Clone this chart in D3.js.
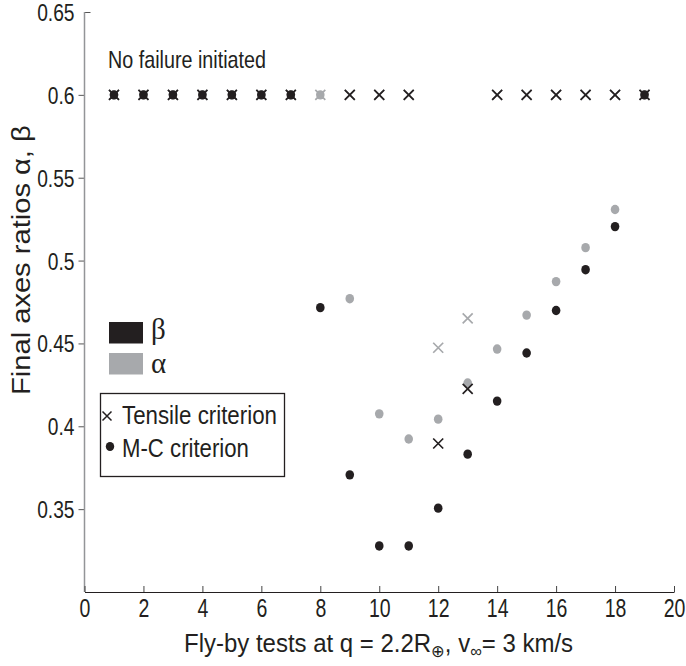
<!DOCTYPE html>
<html>
<head>
<meta charset="utf-8">
<script src="https://cdn.jsdelivr.net/npm/d3@7"></script>
<style>
  body { margin: 0; background: #fff; }
  svg { display: block; font-family: "Liberation Sans", Arial, sans-serif; }
</style>
</head>
<body>
<div id="chart"></div>
<script>
'use strict';

// fly-by test number
var tests = [1, 2, 3, 4, 5, 6, 7, 8, 9, 10, 11, 12, 13, 14, 15, 16, 17, 18, 19];

// final axes ratios (null = no marker drawn)
var betaMC = [0.6, 0.6, 0.6, 0.6, 0.6, 0.6, 0.6, 0.4716, 0.3707, 0.3278, 0.3278,
  0.3506, 0.3832, 0.4152, 0.4442, 0.4699, 0.4945, 0.5205, 0.6];
var alphaMC = [0.6, 0.6, 0.6, 0.6, 0.6, 0.6, 0.6, 0.6, 0.4770, 0.4075, 0.3923,
  0.4043, 0.4261, 0.4466, 0.4671, 0.4873, 0.5078, 0.5308, 0.6];
var betaTensile = [0.6, 0.6, 0.6, 0.6, 0.6, 0.6, 0.6, null, 0.6, 0.6, 0.6,
  0.3896, 0.4226, 0.6, 0.6, 0.6, 0.6, 0.6, 0.6];
var alphaTensile = [0.6, 0.6, 0.6, 0.6, 0.6, 0.6, 0.6, 0.6, 0.6, 0.6, 0.6,
  0.4474, 0.4651, 0.6, 0.6, 0.6, 0.6, 0.6, 0.6];

var xTicks = [0, 2, 4, 6, 8, 10, 12, 14, 16, 18, 20];
var yTicks = [0.35, 0.4, 0.45, 0.5, 0.55, 0.6, 0.65];

var black = '#231f20';
var gray = '#a7a9ac';

var w = 686, h = 666;

var x = d3.scaleLinear().domain([0, 20]).range([84.5, 674]);
var y = d3.scaleLinear().domain([0.3, 0.65]).range([592, 12]);

var svg = d3.select('#chart').append('svg')
    .attr('width', w)
    .attr('height', h);

// squeeze a text horizontally round its anchor point (the original uses a condensed face)
function squeeze(sel, x0, y0, k) {
  sel.attr('x', 0).attr('y', 0)
     .attr('transform', 'translate(' + x0 + ',' + y0 + ') scale(' + k + ',1)');
}
// squeeze a text so that it is exactly `width` wide
function fit(sel, x0, y0, width) {
  sel.attr('x', 0).attr('y', 0);
  var w0 = sel.node().getBBox().width;
  squeeze(sel, x0, y0, width / w0);
}

// y axis (gray, ticks outside)
var yAxis = svg.append('g')
    .attr('transform', 'translate(' + x(0) + ',0)')
    .call(d3.axisLeft(y).tickValues(yTicks).tickSize(6)
      .tickFormat(function (d) { return String(+d.toFixed(2)); }));
yAxis.select('.domain').remove();
yAxis.append('line')
    .attr('y1', y(0.65)).attr('y2', y(0.3))
    .attr('stroke', '#939598').attr('stroke-width', 1.5);
yAxis.selectAll('.tick line').attr('stroke', '#555').attr('stroke-width', 1);
yAxis.selectAll('.tick').filter(function (d) { return d === 0.65; })
    .select('line').attr('x2', 6);
yAxis.selectAll('.tick text')
    .attr('fill', black)
    .attr('dy', null)
    .style('font-size', '24px')
    .each(function () { squeeze(d3.select(this), -10, 8.5, 0.8); });

// x axis (dark, ticks inside)
var xAxis = svg.append('g')
    .attr('transform', 'translate(0,' + y(0.3) + ')')
    .call(d3.axisBottom(x).tickValues(xTicks).tickSizeInner(-6).tickSizeOuter(0));
xAxis.select('.domain').attr('stroke', black).attr('stroke-width', 1.2);
xAxis.selectAll('.tick line').attr('stroke', '#444');
xAxis.selectAll('.tick text')
    .attr('fill', black)
    .attr('dy', null)
    .style('font-size', '25px')
    .each(function () { squeeze(d3.select(this), 0, 25, 0.78); });

// markers
function drawDots(vals, color) {
  svg.append('g').selectAll('ellipse')
      .data(tests.map(function (t, i) { return [t, vals[i]]; })
        .filter(function (d) { return d[1] !== null; }))
    .enter().append('ellipse')
      .attr('cx', function (d) { return x(d[0]); })
      .attr('cy', function (d) { return y(d[1]); })
      .attr('rx', 4.3)
      .attr('ry', 4.7)
      .attr('fill', color);
}

function drawCrosses(vals, color) {
  var s = 5;
  svg.append('g').selectAll('path')
      .data(tests.map(function (t, i) { return [t, vals[i]]; })
        .filter(function (d) { return d[1] !== null; }))
    .enter().append('path')
      .attr('d', function (d) {
        var cx = x(d[0]), cy = y(d[1]);
        return 'M' + (cx - s) + ',' + (cy - s) + 'L' + (cx + s) + ',' + (cy + s)
          + 'M' + (cx - s) + ',' + (cy + s) + 'L' + (cx + s) + ',' + (cy - s);
      })
      .attr('stroke', color)
      .attr('stroke-width', 1.7)
      .attr('fill', 'none');
}

drawDots(alphaMC, gray);
drawCrosses(alphaTensile, gray);
drawDots(betaMC, black);
drawCrosses(betaTensile, black);

// annotation
var note = svg.append('text')
    .attr('fill', black)
    .style('font-size', '24px')
    .text('No failure initiated');
fit(note, 108, 68, 158);

// colour legend
var legend = [['\u03b2', black], ['\u03b1', gray]];
legend.forEach(function (d, i) {
  svg.append('rect')
      .attr('x', 109).attr('y', 322 + i * 31)
      .attr('width', 34).attr('height', 21.5)
      .attr('fill', d[1]);
  svg.append('text')
      .attr('x', 151).attr('y', 339 + i * 34)
      .attr('fill', black)
      .style('font-family', '"Liberation Serif", "Times New Roman", serif')
      .style('font-size', '29px')
      .text(d[0]);
});

// marker legend
svg.append('rect')
    .attr('x', 100.5).attr('y', 393.5)
    .attr('width', 184).attr('height', 83)
    .attr('fill', 'none')
    .attr('stroke', black)
    .attr('stroke-width', 1.3);
svg.append('path')
    .attr('d', 'M102.5,411.5L111.5,420.5M102.5,420.5L111.5,411.5')
    .attr('stroke', black).attr('stroke-width', 1.5);
var t1 = svg.append('text')
    .attr('fill', black)
    .style('font-size', '25px')
    .text('Tensile criterion');
fit(t1, 122, 424, 155);
svg.append('ellipse')
    .attr('cx', 110).attr('cy', 446.5)
    .attr('rx', 4.2).attr('ry', 4.6)
    .attr('fill', black);
var t2 = svg.append('text')
    .attr('fill', black)
    .style('font-size', '25px')
    .text('M-C criterion');
fit(t2, 122, 457, 127);

// axis titles
var xt = svg.append('text')
    .attr('fill', black)
    .style('font-size', '25px');
xt.append('tspan').text('Fly-by tests at q = 2.2R');
xt.append('tspan').attr('dy', 5).style('font-size', '17px').text('\u2295');
xt.append('tspan').attr('dy', -5).text(', v');
xt.append('tspan').attr('dy', 5).style('font-size', '17px').text('\u221e');
xt.append('tspan').attr('dy', -5).text('= 3 km/s');
fit(xt, 184, 652, 389);

var yt = svg.append('text')
    .attr('fill', black)
    .style('font-size', '25px')
    .text('Final axes ratios \u03b1, \u03b2');
yt.attr('x', 0).attr('y', 0);
var yw = yt.node().getBBox().width;
yt.attr('transform', 'translate(30,395) rotate(-90) scale(' + (270 / yw) + ',1)');
</script>
</body>
</html>
